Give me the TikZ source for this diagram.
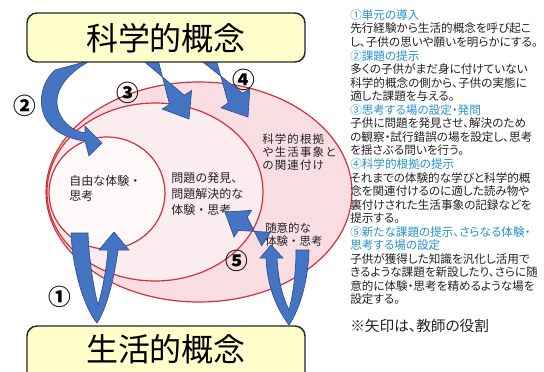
\documentclass[tikz,border=0pt]{standalone}
\usepackage{fontspec}
\newfontfamily\jp{Noto Sans CJK JP}
\newfontfamily\jpp[RawFeature=+palt]{Noto Sans CJK JP}
\newfontfamily\jpw[LetterSpace=10]{Noto Sans CJK JP}
\usetikzlibrary{calc}
\definecolor{boxfill}{RGB}{255,255,204}
\definecolor{ringred}{RGB}{212,48,58}
\definecolor{pinkA}{RGB}{248,222,226}
\definecolor{pinkB}{RGB}{251,237,239}
\definecolor{pinkC}{RGB}{254,249,249}
\definecolor{arrowblue}{RGB}{68,116,194}
\definecolor{arrowedge}{RGB}{44,82,148}
\definecolor{headblue}{RGB}{38,146,206}
\definecolor{textgray}{RGB}{35,35,35}
\tikzset{
  ring/.style={draw=ringred, line width=0.9pt},
  conceptbox/.style={draw=black!85, line width=1.1pt, fill=boxfill, rounded corners=7.5pt},
  bluearrow/.style={fill=arrowblue, draw=arrowedge, line width=0.5pt},
  title/.style={font=\jp\fontsize{24pt}{28pt}\selectfont, text=black, inner sep=0pt},
  num/.style={font=\jp\bfseries\fontsize{17pt}{19pt}\selectfont, text=black, inner sep=0pt},
  lbl/.style={font=\jp\fontsize{9pt}{12pt}\selectfont, text=textgray, align=left, anchor=west, inner sep=0pt},
  rt/.style={font=\jpp\fontsize{8.7pt}{10pt}\selectfont, text=textgray, anchor=west, inner sep=0pt},
  rh/.style={rt, text=headblue}
}
\newcommand{\barrow}[5]{%
  \coordinate (bT) at (#1);
  \coordinate (bP) at (#2);
  \coordinate (bB) at ($(bP)!#5!(bT)$);
  \path[bluearrow] ($(bT)!#3!90:(bP)$) -- ($(bB)!#3!-90:(bP)$) -- ($(bB)!#4!-90:(bP)$) -- (bP)
     -- ($(bB)!#4!90:(bP)$) -- ($(bB)!#3!90:(bP)$) -- ($(bT)!#3!-90:(bP)$) -- cycle;
}
\begin{document}
\begin{tikzpicture}[x=0.75pt,y=-0.75pt]
\useasboundingbox (0,0) rectangle (544,372);
\clip (0,0) rectangle (544,372);
\fill[white] (0,0) rectangle (544,372);

% nested ellipses
\draw[ring, fill=pinkA] (199,192) ellipse [x radius=153, y radius=110];
\draw[ring, fill=pinkB] (155,192) ellipse [x radius=108, y radius=89];
\draw[ring, fill=pinkC] (107,193) ellipse [x radius=58, y radius=56];

% labels inside ellipses
\node[lbl, font=\jp\fontsize{9pt}{11.3pt}\selectfont] (free) at (69,188.5) {自由な体験・\\思考};
\node[lbl] (prob) at (171,194) {問題の発見、\\問題解決的な\\体験・思考};
\node[lbl, font=\jpw\fontsize{8.6pt}{9.8pt}\selectfont] (sci) at (262,152) {科学的根拠\\や生活事象と\\の関連付け};
\node[lbl, font=\jp\fontsize{8.6pt}{9.8pt}\selectfont] (vol) at (265,234.5) {随意的な\\体験・思考};

% arrows
\barrow{148,54}{189,119}{6.5pt}{13pt}{17pt}
\barrow{206,54}{248,117}{6.5pt}{13pt}{17pt}
\barrow{266,239}{225,212}{6pt}{12pt}{16pt}
% arrow 2 (curved, from top box to small circle)
\path[bluearrow] (55,70) .. controls (38,85) and (35,116) .. (57,131)
   .. controls (66,137) and (76,140) .. (85,141) -- (89,156) -- (102,143) -- (85,126) -- (85,133)
   .. controls (72,131) and (58,120) .. (57,103) .. controls (56,86) and (72,70) .. (92,60) -- cycle;
% arrow 1 (U shape, left)
\path[bluearrow] (71,233) .. controls (73,275) and (86,310) .. (97,323)
   .. controls (106,310) and (114,280) .. (118,250) -- (129,250) -- (114,232) -- (99,250) -- (108,250)
   .. controls (106,272) and (102,292) .. (98,305) .. controls (94,290) and (89,260) .. (88,233) -- cycle;
% arrow (U shape, right)
\path[bluearrow] (309,250) .. controls (308,285) and (298,312) .. (289,325)
   .. controls (276,308) and (267,285) .. (266,258) -- (260,258) -- (271,245) -- (283,258) -- (277,258)
   .. controls (278,280) and (283,298) .. (289,310) .. controls (293,295) and (296,272) .. (296,250) -- cycle;

% concept boxes
\draw[conceptbox] (27,13) rectangle (305,62);
\node[title] (kagaku) at (166,38) {科学的概念};
\draw[conceptbox] (27,326) rectangle (305,392);
\node[title] (seikatsu) at (166,349) {生活的概念};

% circled numbers
\node[num] (n2) at (25,106) {②};
\node[num] (n3) at (128,93) {③};
\node[num] (n4) at (244,80) {④};
\node[num] (n1) at (60,297) {①};
\node[num] (n5) at (237,261) {⑤};

% right panel
\node[rh] (r0) at (350,15) {①単元の導入};
\node[rt] (r1) at (350,28.6) {先行経験から生活的概念を呼び起こ};
\node[rt] (r2) at (350,42.1) {し、子供の思いや願いを明らかにする。};
\node[rh] (r3) at (350,55.7) {②課題の提示};
\node[rt] (r4) at (350,69.2) {多くの子供がまだ身に付けていない};
\node[rt] (r5) at (350,82.8) {科学的概念の側から、子供の実態に};
\node[rt] (r6) at (350,96.3) {適した課題を与える。};
\node[rh] (r7) at (350,109.9) {③思考する場の設定・発問};
\node[rt] (r8) at (350,123.4) {子供に問題を発見させ、解決のため};
\node[rt] (r9) at (350,137) {の観察・試行錯誤の場を設定し、思考};
\node[rt] (r10) at (350,150.5) {を揺さぶる問いを行う。};
\node[rh] (r11) at (350,164.1) {④科学的根拠の提示};
\node[rt] (r12) at (350,177.6) {それまでの体験的な学びと科学的概};
\node[rt] (r13) at (350,191.2) {念を関連付けるのに適した読み物や};
\node[rt] (r14) at (350,204.7) {裏付けされた生活事象の記録などを};
\node[rt] (r15) at (350,218.3) {提示する。};
\node[rh] (r16) at (350,231.8) {⑤新たな課題の提示、さらなる体験・};
\node[rh] (r17) at (350,245.4) {思考する場の設定};
\node[rt] (r18) at (350,258.9) {子供が獲得した知識を汎化し活用で};
\node[rt] (r19) at (350,272.5) {きるような課題を新設したり、さらに随};
\node[rt] (r20) at (350,286) {意的に体験・思考を精めるような場を};
\node[rt] (r21) at (350,299.6) {設定する。};
\node[rt, font=\jpp\fontsize{11pt}{13pt}\selectfont] (note) at (350,326) {※矢印は、教師の役割};
\end{tikzpicture}
\end{document}
